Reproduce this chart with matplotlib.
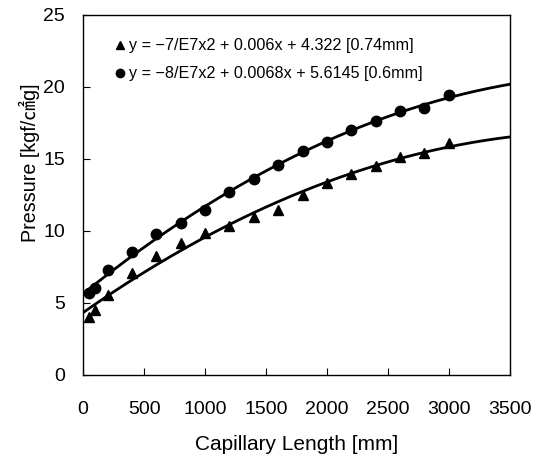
import numpy as np
import matplotlib
matplotlib.use("Agg")
import matplotlib.pyplot as plt
from matplotlib.lines import Line2D

plt.rcParams['font.family'] = ['Liberation Sans', 'Noto Sans CJK JP', 'DejaVu Sans']

x_pts = [50, 100, 200, 400, 600, 800, 1000, 1200, 1400, 1600, 1800, 2000, 2200, 2400, 2600, 2800, 3000]
p_074 = [4.0, 4.5, 5.55, 7.1, 8.26, 9.14, 9.88, 10.35, 10.95, 11.46, 12.5, 13.35, 13.96, 14.47, 15.1, 15.44, 16.08]
p_06 = [5.67, 6.02, 7.3, 8.56, 9.79, 10.53, 11.46, 12.73, 13.61, 14.54, 15.56, 16.2, 17.0, 17.6, 18.33, 18.5, 19.44]
label_074 = "y = −7/E7x2 + 0.006x + 4.322 [0.74mm]"
label_06 = "y = −8/E7x2 + 0.0068x + 5.6145 [0.6mm]"
x_ticks = [0, 500, 1000, 1500, 2000, 2500, 3000, 3500]
y_ticks = [0, 5, 10, 15, 20, 25]

fig = plt.figure(figsize=(5.47, 4.65), dpi=100)
ax = fig.add_axes([0.152, 0.194, 0.78, 0.774])

xs = np.linspace(0, 3500, 300)
for ys in (p_074, p_06):
    c = np.polyfit(x_pts, ys, 2)
    ax.plot(xs, np.polyval(c, xs), color='black', lw=2)

ax.plot(x_pts, p_074, '^', color='black', ms=7.5, ls='none')
ax.plot(x_pts, p_06, 'o', color='black', ms=7.5, ls='none')

ax.set_xlim(0, 3500)
ax.set_ylim(0, 25)
ax.set_xticks(x_ticks)
ax.set_yticks(y_ticks)
ax.tick_params(direction='in', labelsize=14, length=5)
ax.tick_params(axis='x', pad=19)
ax.tick_params(axis='y', pad=13)
for s in ax.spines.values():
    s.set_linewidth(1.0)

ax.set_xlabel("Capillary Length [mm]", fontsize=15, labelpad=12)
ax.set_ylabel("Pressure [kgf/㎠g]", fontsize=14.2)
ax.yaxis.set_label_coords(-0.10, 0.59)

handles = [Line2D([], [], marker='^', color='black', ls='none', ms=6),
           Line2D([], [], marker='o', color='black', ls='none', ms=6)]
ax.legend(handles, [label_074, label_06], loc='upper left', frameon=False,
          fontsize=11.6, handlelength=0.6, handletextpad=0.3, labelspacing=0.8,
          bbox_to_anchor=(0.04, 0.975))

fig.savefig("out.png", dpi=100)
